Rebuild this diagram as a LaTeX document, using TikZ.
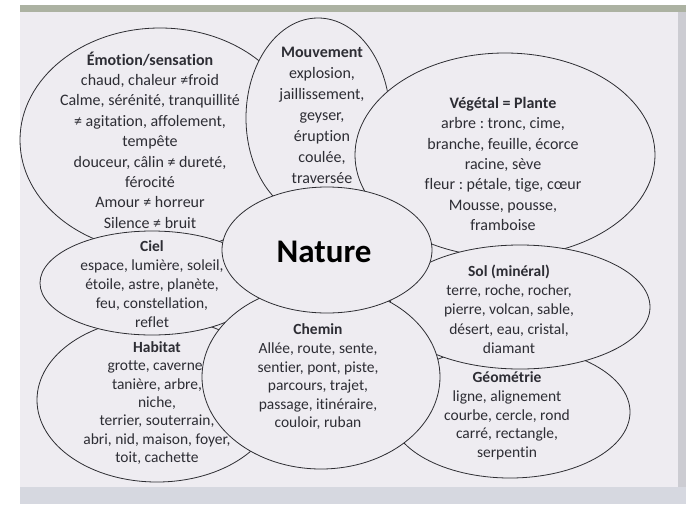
\documentclass[tikz,border=0pt]{standalone}
\usepackage{fontspec}
\setmainfont{Carlito}[Ligatures={NoCommon}]
\usetikzlibrary{shapes.geometric}
\frenchspacing

\begin{document}
\begin{tikzpicture}[
    x=1pt, y=-1pt,
    blob/.style={ellipse, draw=inkline, fill=paper, line width=0.8pt, inner sep=0pt},
    words/.style={align=center, text=inktext, font=\fontsize{15.5}{18.8}\selectfont},
    bigwords/.style={words, font=\fontsize{16}{20.4}\selectfont}
]

% Colors
\definecolor{paper}{RGB}{238,236,241}
\definecolor{inkline}{RGB}{45,45,50}
\definecolor{inktext}{RGB}{45,45,52}
\definecolor{topband}{RGB}{172,178,162}
\definecolor{sideband}{RGB}{204,204,210}
\definecolor{footband}{RGB}{214,216,224}

% Photo and page
\useasboundingbox (0,0) rectangle (697,504);
\fill[white] (0,0) rectangle (697,504);
\fill[paper] (20,5) rectangle (686,504);
\fill[topband] (20,5) rectangle (686,12);
\fill[sideband] (678,12) rectangle (686,504);
\fill[footband] (20,487) rectangle (686,504);

% Ellipses, back to front, each with its words
\node[blob, minimum width=280, minimum height=224] (emotion) at (160,140) {};
\node[bigwords] (emotiontxt) at (150,140)
    {\textbf{Émotion/sensation}\\ chaud, chaleur ≠froid\\ Calme, sérénité, tranquillité\\
     ≠ agitation, affolement,\\ tempête\\ douceur, câlin ≠ dureté,\\ férocité\\
     Amour ≠ horreur\\ Silence ≠ bruit};

\node[blob, minimum width=144, minimum height=200] (mouvement) at (318,118) {};
\node[bigwords, font=\fontsize{16}{21}\selectfont] (mouvementtxt) at (322,115)
    {\textbf{Mouvement}\\ explosion,\\ jaillissement,\\ geyser,\\ éruption\\ coulée,\\ traversée};

\node[blob, minimum width=300, minimum height=204] (vegetal) at (505,155) {};
\node[bigwords] (vegetaltxt) at (503,164)
    {\textbf{Végétal = Plante}\\ arbre : tronc, cime,\\ branche, feuille, écorce\\
     racine, sève\\ fleur : pétale, tige, cœur\\ Mousse, pousse,\\ framboise};

\node[blob, minimum width=240, minimum height=132] (geometrie) at (510,412) {};
\node[words] (geometrietxt) at (507,416)
    {\textbf{Géométrie}\\ ligne, alignement\\ courbe, cercle, rond\\ carré, rectangle,\\ serpentin};

\node[blob, minimum width=260, minimum height=124] (sol) at (520,307) {};
\node[words, font=\fontsize{15.5}{19.3}\selectfont] (soltxt) at (509,309)
    {\textbf{Sol (minéral)}\\ terre, roche, rocher,\\ pierre, volcan, sable,\\ désert, eau, cristal,\\ diamant};

\node[blob, minimum width=240, minimum height=164] (habitat) at (157,400) {};
\node[words, font=\fontsize{15.5}{18.3}\selectfont] (habitattxt) at (157,403)
    {\textbf{Habitat}\\ grotte, caverne,\\ tanière, arbre,\\ niche,\\ terrier, souterrain,\\
     abri, nid, maison, foyer,\\ toit, cachette};

\node[blob, minimum width=224, minimum height=104] (ciel) at (152,283) {};
\node[words, font=\fontsize{15.5}{19}\selectfont] (cieltxt) at (152,284)
    {\textbf{Ciel}\\ espace, lumière, soleil,\\ étoile, astre, planète,\\ feu, constellation,\\ reflet};

\node[blob, minimum width=238, minimum height=184] (chemin) at (321,377) {};
\node[words, font=\fontsize{15.5}{18.6}\selectfont] (chemintxt) at (318,377)
    {\textbf{Chemin}\\ Allée, route, sente,\\ sentier, pont, piste,\\ parcours, trajet,\\
     passage, itinéraire,\\ couloir, ruban};

\node[blob, minimum width=210, minimum height=126] (nature) at (327,250) {};
\node[font=\fontsize{33}{36}\selectfont\bfseries, text=black] (naturetxt) at (324,252) {Nature};

\end{tikzpicture}
\end{document}
